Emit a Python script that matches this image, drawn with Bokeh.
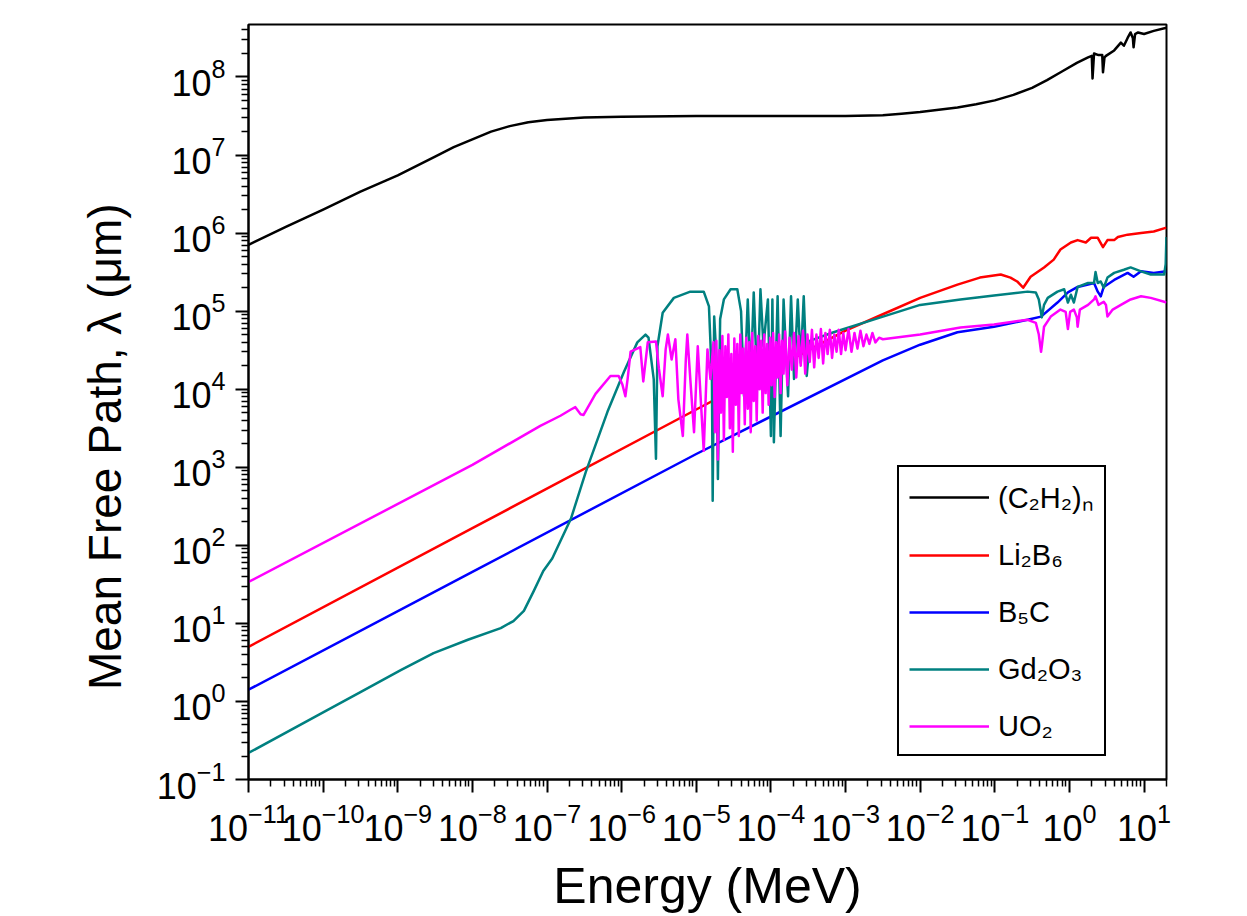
from bokeh.plotting import figure
from bokeh.models import FixedTicker, Legend, LegendItem
from bokeh.embed import file_html
from bokeh.resources import INLINE

# ---- data: (log10 Energy [MeV], log10 mean free path [um]) ----
ch_pts = [(-11, 5.85), (-10.5, 6.08), (-10, 6.30), (-9.5, 6.53), (-9, 6.74), (-8.5, 6.98),
          (-8.25, 7.10), (-8, 7.20), (-7.75, 7.30), (-7.5, 7.37), (-7.25, 7.42), (-7, 7.45),
          (-6.5, 7.48), (-6, 7.49), (-5, 7.50), (-4, 7.50), (-3, 7.50), (-2.5, 7.51),
          (-2.25, 7.53), (-2, 7.55), (-1.75, 7.58), (-1.5, 7.61), (-1.25, 7.65), (-1, 7.70),
          (-0.75, 7.77), (-0.5, 7.86), (-0.3, 7.96), (-0.1, 8.07), (0.1, 8.18), (0.25, 8.25),
          (0.30, 8.27), (0.31, 7.98), (0.33, 8.30), (0.39, 8.28), (0.44, 8.28), (0.45, 8.06),
          (0.47, 8.25), (0.49, 8.27), (0.60, 8.34), (0.69, 8.44), (0.73, 8.40), (0.78, 8.50),
          (0.82, 8.57), (0.85, 8.50), (0.86, 8.38), (0.88, 8.55), (0.92, 8.57), (1.00, 8.55),
          (1.13, 8.59), (1.30, 8.63)]

li_pts = [(-11, 0.70), (-8, 2.22), (-5, 3.74), (-3, 4.75), (-2.5, 4.96), (-2, 5.17), (-1.5, 5.34),
          (-1.2, 5.43), (-0.92, 5.47), (-0.79, 5.43), (-0.70, 5.38), (-0.62, 5.30), (-0.57, 5.37),
          (-0.52, 5.44), (-0.34, 5.56), (-0.21, 5.66), (-0.12, 5.79), (0.02, 5.88), (0.11, 5.91),
          (0.22, 5.88), (0.29, 5.94), (0.38, 5.94), (0.45, 5.82), (0.51, 5.91), (0.60, 5.91),
          (0.65, 5.95), (0.78, 5.98), (0.96, 6.00), (1.13, 6.02), (1.30, 6.07)]

b5c_pts = [(-11, 0.15), (-8, 1.66), (-5, 3.17), (-2.5, 4.37), (-2, 4.57), (-1.5, 4.73), (-1.01, 4.80),
           (-0.56, 4.89), (-0.38, 4.93), (-0.16, 5.11), (-0.02, 5.24), (0.11, 5.31), (0.25, 5.34),
           (0.33, 5.36), (0.38, 5.25), (0.42, 5.19), (0.46, 5.31), (0.60, 5.40), (0.78, 5.49),
           (0.86, 5.44), (0.96, 5.51), (1.13, 5.49), (1.30, 5.51)]

gd_pts = [(-11, -0.66), (-10, -0.14), (-9.5, 0.12), (-8.96, 0.40), (-8.52, 0.62), (-8.06, 0.79),
          (-7.62, 0.94), (-7.45, 1.03), (-7.31, 1.16), (-7.18, 1.41), (-7.05, 1.67), (-6.93, 1.83),
          (-6.68, 2.34), (-6.48, 2.94), (-6.19, 3.71), (-5.97, 4.22), (-5.79, 4.60), (-5.68, 4.70),
          (-5.64, 4.66), (-5.57, 4.13), (-5.54, 3.11), (-5.52, 4.55), (-5.45, 4.98), (-5.30, 5.17),
          (-5.08, 5.25), (-4.90, 5.25), (-4.83, 5.06), (-4.79, 4.13), (-4.78, 2.57), (-4.76, 4.93),
          (-4.73, 4.40), (-4.71, 2.85), (-4.68, 4.90), (-4.63, 5.15), (-4.54, 5.28), (-4.45, 5.28),
          (-4.40, 5.00), (-4.36, 3.91), (-4.31, 5.15), (-4.27, 4.13), (-4.23, 5.24), (-4.18, 4.00),
          (-4.14, 5.28), (-4.10, 4.55), (-4.04, 5.15), (-4.00, 3.40), (-3.98, 5.15), (-3.96, 3.32),
          (-3.91, 5.19), (-3.87, 3.40), (-3.83, 5.15), (-3.77, 3.91), (-3.73, 5.19), (-3.69, 4.13),
          (-3.64, 5.15), (-3.60, 4.34), (-3.56, 5.19), (-3.52, 4.17), (-3.48, 4.62), (-3.16, 4.73),
          (-2.53, 4.92), (-2.0, 5.08), (-1.46, 5.15), (-1.01, 5.20), (-0.56, 5.25), (-0.45, 5.24),
          (-0.41, 5.15), (-0.38, 4.98), (-0.37, 4.92), (-0.34, 5.08), (-0.29, 5.17), (-0.16, 5.25),
          (-0.07, 5.28), (-0.02, 5.11), (0.02, 5.21), (0.06, 5.11), (0.11, 5.31), (0.25, 5.36),
          (0.33, 5.36), (0.35, 5.50), (0.38, 5.36), (0.42, 5.38), (0.46, 5.30), (0.51, 5.43),
          (0.60, 5.49), (0.73, 5.53), (0.82, 5.56), (0.96, 5.51), (1.09, 5.47), (1.27, 5.47),
          (1.29, 5.60), (1.30, 5.95)]

uo2_pts = [(-11, 1.53), (-8, 3.03), (-7.09, 3.53), (-6.82, 3.66), (-6.68, 3.74), (-6.62, 3.77),
           (-6.55, 3.68), (-6.51, 3.67), (-6.35, 3.94), (-6.15, 4.17), (-6.04, 4.17), (-5.99, 4.06),
           (-5.95, 3.91), (-5.92, 4.13), (-5.88, 4.48), (-5.75, 4.54), (-5.71, 4.10), (-5.65, 4.60),
           (-5.54, 4.61), (-5.50, 4.26), (-5.45, 3.91), (-5.41, 4.51), (-5.38, 4.70), (-5.33, 4.38),
           (-5.28, 4.64), (-5.24, 3.87), (-5.18, 3.40), (-5.14, 4.38), (-5.12, 4.70), (-5.08, 4.13),
           (-5.03, 3.45), (-4.98, 4.55), (-4.94, 3.87), (-4.90, 3.21), (-4.85, 4.51), (-4.81, 4.13),
           (-4.77, 4.60), (-4.75, 3.45), (-4.73, 4.62), (-4.71, 3.10), (-4.69, 4.50), (-4.67, 3.70),
           (-4.65, 4.68), (-4.63, 3.35), (-4.61, 4.55), (-4.59, 3.90), (-4.57, 4.70), (-4.55, 3.50),
           (-4.53, 4.45), (-4.51, 3.20), (-4.49, 4.65), (-4.47, 3.80), (-4.45, 4.58), (-4.43, 3.40),
           (-4.41, 4.70), (-4.39, 3.95), (-4.37, 4.52), (-4.35, 3.55), (-4.33, 4.66), (-4.31, 3.75),
           (-4.29, 4.60), (-4.27, 3.45), (-4.25, 4.72), (-4.23, 3.85), (-4.21, 4.55), (-4.19, 3.60),
           (-4.17, 4.68), (-4.15, 4.00), (-4.13, 4.62), (-4.11, 3.70), (-4.09, 4.70), (-4.07, 3.95),
           (-4.05, 4.58), (-4.03, 3.80), (-4.01, 4.66), (-3.99, 4.05), (-3.97, 4.72), (-3.95, 3.90),
           (-3.93, 4.60), (-3.91, 4.15), (-3.89, 4.70), (-3.87, 3.95), (-3.85, 4.62), (-3.83, 4.20),
           (-3.81, 4.74), (-3.78, 4.05), (-3.75, 4.66), (-3.72, 4.25), (-3.69, 4.72), (-3.66, 4.15),
           (-3.63, 4.68), (-3.60, 4.30), (-3.57, 4.75), (-3.54, 4.20), (-3.51, 4.70), (-3.48, 4.35),
           (-3.45, 4.76), (-3.42, 4.28), (-3.39, 4.70), (-3.36, 4.40), (-3.33, 4.77), (-3.30, 4.33),
           (-3.27, 4.72), (-3.24, 4.45), (-3.21, 4.76), (-3.18, 4.40), (-3.15, 4.70), (-3.12, 4.48),
           (-3.09, 4.76), (-3.06, 4.45), (-3.03, 4.72), (-3.00, 4.50), (-2.96, 4.77), (-2.92, 4.48),
           (-2.88, 4.72), (-2.84, 4.52), (-2.80, 4.75), (-2.76, 4.55), (-2.72, 4.70), (-2.68, 4.58),
           (-2.64, 4.72), (-2.60, 4.60), (-2.55, 4.66), (-2.50, 4.64), (-2.0, 4.70), (-1.46, 4.79),
           (-1.01, 4.83), (-0.56, 4.89), (-0.45, 4.85), (-0.41, 4.70), (-0.38, 4.48), (-0.37, 4.55),
           (-0.34, 4.80), (-0.25, 4.93), (-0.12, 5.02), (-0.05, 4.99), (-0.02, 4.77), (0.01, 4.99),
           (0.06, 5.02), (0.10, 4.92), (0.11, 4.80), (0.14, 5.02), (0.25, 5.08), (0.33, 5.15),
           (0.35, 5.19), (0.39, 5.08), (0.46, 5.12), (0.49, 5.08), (0.51, 4.93), (0.58, 5.02),
           (0.69, 5.08), (0.82, 5.15), (0.96, 5.19), (1.09, 5.17), (1.27, 5.12), (1.30, 5.11)]

series_names = ["(C\u2082H\u2082)\u2099", "Li\u2082B\u2086", "B\u2085C", "Gd\u2082O\u2083", "UO\u2082"]
series_colors = ["#000000", "#ff0000", "#0000ff", "#008080", "#ff00ff"]
series_pts = [ch_pts, li_pts, b5c_pts, gd_pts, uo2_pts]

x_major = [10.0 ** k for k in range(-11, 2)]
y_major = [10.0 ** k for k in range(-1, 9)]
x_minor = [m * 10.0 ** k for k in range(-11, 2) for m in range(2, 10)]
y_minor = [m * 10.0 ** k for k in range(-1, 9) for m in range(2, 10)]

x_title = "Energy (MeV)"
y_title = "Mean Free Path, \u03bb (\u03bcm)"

FONT = "Liberation Sans"

p = figure(width=1238, height=916, x_axis_type="log", y_axis_type="log",
           x_range=(1e-11, 20), y_range=(1e-1, 4.7e8),
           output_backend="svg", toolbar_location=None,
           min_border_left=248, min_border_right=72, min_border_top=24, min_border_bottom=134)
p.grid.visible = False
p.outline_line_color = "black"
p.outline_line_width = 2
p.outline_line_alpha = 1
p.background_fill_color = "white"
p.border_fill_color = "white"

p.xaxis.ticker = FixedTicker(ticks=x_major, minor_ticks=x_minor)
p.yaxis.ticker = FixedTicker(ticks=y_major, minor_ticks=y_minor)

for ax in (p.xaxis[0], p.yaxis[0]):
    ax.axis_line_width = 2
    ax.axis_line_color = "black"
    ax.major_tick_in = 0
    ax.major_tick_out = 13
    ax.minor_tick_in = 0
    ax.minor_tick_out = 7
    ax.major_tick_line_width = 2
    ax.minor_tick_line_width = 1.5
    ax.major_tick_line_color = "black"
    ax.minor_tick_line_color = "black"
    ax.major_label_text_font = FONT
    ax.major_label_text_font_size = "36px"
    ax.major_label_text_color = "black"
    ax.axis_label_text_font = FONT
    ax.axis_label_text_font_style = "normal"
    ax.axis_label_text_color = "black"

p.xaxis.axis_label = x_title
p.xaxis.axis_label_text_font_size = "50px"
p.xaxis.major_label_standoff = 10
p.xaxis.axis_label_standoff = 14

# trailing no-break spaces shift the rotated title downward like the original
p.yaxis.axis_label = y_title + "\u00a0" * 7
p.yaxis.axis_label_text_font_size = "46px"
p.yaxis.major_label_standoff = 10
p.yaxis.axis_label_standoff = 23

items = []
for name, color, pts in zip(series_names, series_colors, series_pts):
    xs = [10.0 ** e for e, _ in pts]
    ys = [10.0 ** l for _, l in pts]
    r = p.line(xs, ys, line_color=color, line_width=2.5, line_join="round")
    items.append(LegendItem(label=name, renderers=[r]))

legend = Legend(items=items, location=(649, 23),
                label_text_font=FONT, label_text_font_size="29px", label_text_color="black",
                glyph_width=80, glyph_height=36, label_height=36, spacing=21, padding=10,
                margin=0, label_standoff=9,
                border_line_color="black", border_line_width=2, border_line_alpha=1,
                background_fill_color="white", background_fill_alpha=1)
p.add_layout(legend)

open("out.html", "w").write(file_html(p, INLINE))
